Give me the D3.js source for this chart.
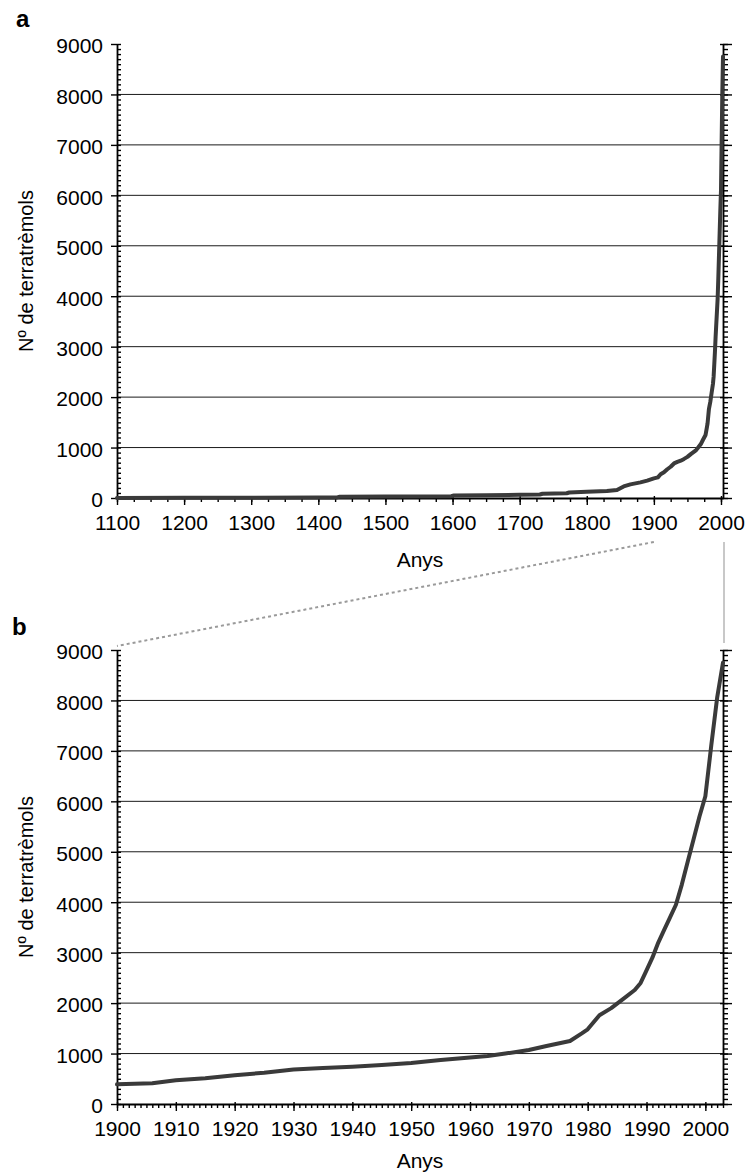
<!DOCTYPE html>
<html>
<head>
<meta charset="utf-8">
<script src="https://cdn.jsdelivr.net/npm/d3@7"></script>
<style>
  body { margin: 0; background: #fff; }
  svg text { font-family: "Liberation Sans", Arial, Helvetica, sans-serif; fill: #000; }
</style>
</head>
<body>
<svg id="chart" width="748" height="1175"></svg>
<script>
// Cumulative number of earthquakes
const earlyYears  = [1100, 1200, 1300, 1400, 1428, 1432, 1500, 1598, 1602, 1650, 1700, 1730, 1734, 1770, 1774, 1800, 1830, 1845, 1855, 1865, 1880, 1890];
const earlyCounts = [2, 4, 6, 9, 12, 25, 30, 36, 50, 55, 62, 70, 85, 95, 110, 125, 140, 160, 230, 270, 310, 345];

const modernYears  = [1900, 1903, 1906, 1910, 1915, 1920, 1925, 1930, 1935, 1940, 1945, 1950, 1955, 1960, 1963, 1966, 1970, 1973, 1977, 1979, 1980, 1982, 1984, 1986, 1988, 1989, 1990, 1991, 1992, 1993, 1994, 1995, 1996, 1997, 1998, 1999, 2000, 2001, 2002, 2003];
const modernCounts = [390, 400, 410, 470, 510, 570, 620, 685, 715, 740, 775, 815, 870, 920, 950, 1000, 1070, 1150, 1250, 1400, 1480, 1760, 1900, 2080, 2260, 2400, 2650, 2900, 3200, 3450, 3700, 3950, 4350, 4800, 5250, 5700, 6100, 7100, 8050, 8750];

const yTicks  = [0, 1000, 2000, 3000, 4000, 5000, 6000, 7000, 8000, 9000];
const xTicksA = [1100, 1200, 1300, 1400, 1500, 1600, 1700, 1800, 1900, 2000];
const xTicksB = [1900, 1910, 1920, 1930, 1940, 1950, 1960, 1970, 1980, 1990, 2000];

const yLabel = 'Nº de terratrèmols';
const xLabel = 'Anys';

const svg = d3.select('#chart');
const left = 117, right = 723, plotH = 454;
const FONT = '"Liberation Sans", Arial, Helvetica, sans-serif';

const early  = earlyYears.map((yr, i) => ({ year: yr, n: earlyCounts[i] }));
const modern = modernYears.map((yr, i) => ({ year: yr, n: modernCounts[i] }));

function styleAxis(sel, showDomain) {
  sel.attr('font-size', 21).attr('font-family', FONT);
  sel.selectAll('.tick line').attr('stroke', '#000').attr('stroke-width', 1.4);
  if (showDomain) sel.select('.domain').attr('stroke', '#000').attr('stroke-width', 1.8);
  else sel.select('.domain').remove();
}

function drawPanel(cfg) {
  const { top, data, domain, ticks, minorX, tag, tagX, tagY, xLabelY } = cfg;
  const x = d3.scaleLinear().domain(domain).range([left, right]);
  const y = d3.scaleLinear().domain([0, 9000]).range([top + plotH, top]);
  const minorY = d3.range(0, 9001, 100);
  const g = svg.append('g');

  // horizontal grid
  g.selectAll('line.grid').data(yTicks.filter(v => v > 0 && v < 9000)).join('line')
    .attr('class', 'grid')
    .attr('x1', left).attr('x2', right)
    .attr('y1', d => y(d)).attr('y2', d => y(d))
    .attr('stroke', '#1a1a1a').attr('stroke-width', 1);

  // left axis: major outward + labels, minor inward
  g.append('g').attr('transform', `translate(${left},0)`)
    .call(d3.axisLeft(y).tickValues(yTicks).tickSize(6).tickSizeOuter(0).tickPadding(8).tickFormat(d3.format('d')))
    .call(s => styleAxis(s, true))
    .selectAll('text').attr('dy', '0.42em');
  g.append('g').attr('transform', `translate(${left},0)`)
    .call(d3.axisRight(y).tickValues(minorY).tickSize(4).tickFormat(''))
    .call(s => styleAxis(s, false));

  // right axis: ticks outward, majors crossing
  g.append('g').attr('transform', `translate(${right},0)`)
    .call(d3.axisRight(y).tickValues(minorY).tickSize(5).tickSizeOuter(0).tickFormat(''))
    .call(s => styleAxis(s, true));
  g.append('g').attr('transform', `translate(${right},0)`)
    .call(d3.axisRight(y).tickValues(yTicks).tickSize(9).tickFormat(''))
    .call(s => styleAxis(s, false));
  g.append('g').attr('transform', `translate(${right},0)`)
    .call(d3.axisLeft(y).tickValues(yTicks).tickSize(3).tickFormat(''))
    .call(s => styleAxis(s, false));

  // bottom axis
  g.append('g').attr('transform', `translate(0,${top + plotH})`)
    .call(d3.axisBottom(x).tickValues(minorX).tickSize(4).tickSizeOuter(0).tickFormat(''))
    .call(s => styleAxis(s, true));
  g.append('g').attr('transform', `translate(0,${top + plotH})`)
    .call(d3.axisBottom(x).tickValues(ticks).tickSize(7).tickPadding(10).tickFormat(d3.format('d')))
    .call(s => styleAxis(s, false));
  g.append('g').attr('transform', `translate(0,${top + plotH})`)
    .call(d3.axisTop(x).tickValues(ticks).tickSize(2).tickFormat(''))
    .call(s => styleAxis(s, false));

  // series
  const line = d3.line().x(d => x(d.year)).y(d => y(d.n));
  g.append('path').datum(data)
    .attr('fill', 'none')
    .attr('stroke', '#3a3a3a')
    .attr('stroke-width', 4)
    .attr('stroke-linejoin', 'round')
    .attr('stroke-linecap', 'round')
    .attr('d', line);

  // labels
  g.append('text')
    .attr('transform', `translate(33,${top + plotH / 2}) rotate(-90)`)
    .attr('text-anchor', 'middle')
    .attr('font-size', 20)
    .text(yLabel);
  g.append('text')
    .attr('x', (left + right) / 2).attr('y', xLabelY)
    .attr('text-anchor', 'middle')
    .attr('font-size', 21)
    .text(xLabel);
  g.append('text')
    .attr('x', tagX).attr('y', tagY)
    .attr('font-size', 24).attr('font-weight', 'bold')
    .text(tag);

  return { x, y };
}

const a = drawPanel({
  top: 44,
  data: early.concat(modern),
  domain: [1100, 2003],
  ticks: xTicksA,
  minorX: d3.range(1100, 2001, 25),
  tag: 'a', tagX: 16, tagY: 27,
  xLabelY: 567
});

const b = drawPanel({
  top: 650,
  data: modern,
  domain: [1900, 2003],
  ticks: xTicksB,
  minorX: d3.range(1900, 2004, 1),
  tag: 'b', tagX: 12, tagY: 635,
  xLabelY: 1168
});

// zoom connectors between panels
const yStart = a.y(0) + 44;
svg.append('line')
  .attr('x1', a.x(1900)).attr('y1', yStart)
  .attr('x2', b.x(1900)).attr('y2', b.y(9000) - 4)
  .attr('stroke', '#9a9a9a').attr('stroke-width', 2)
  .attr('stroke-dasharray', '3,3');
svg.append('line')
  .attr('x1', a.x(2003) + 1).attr('y1', yStart)
  .attr('x2', a.x(2003) + 1).attr('y2', b.y(9000) - 7)
  .attr('stroke', '#c8c8c8').attr('stroke-width', 2);
</script>
</body>
</html>
